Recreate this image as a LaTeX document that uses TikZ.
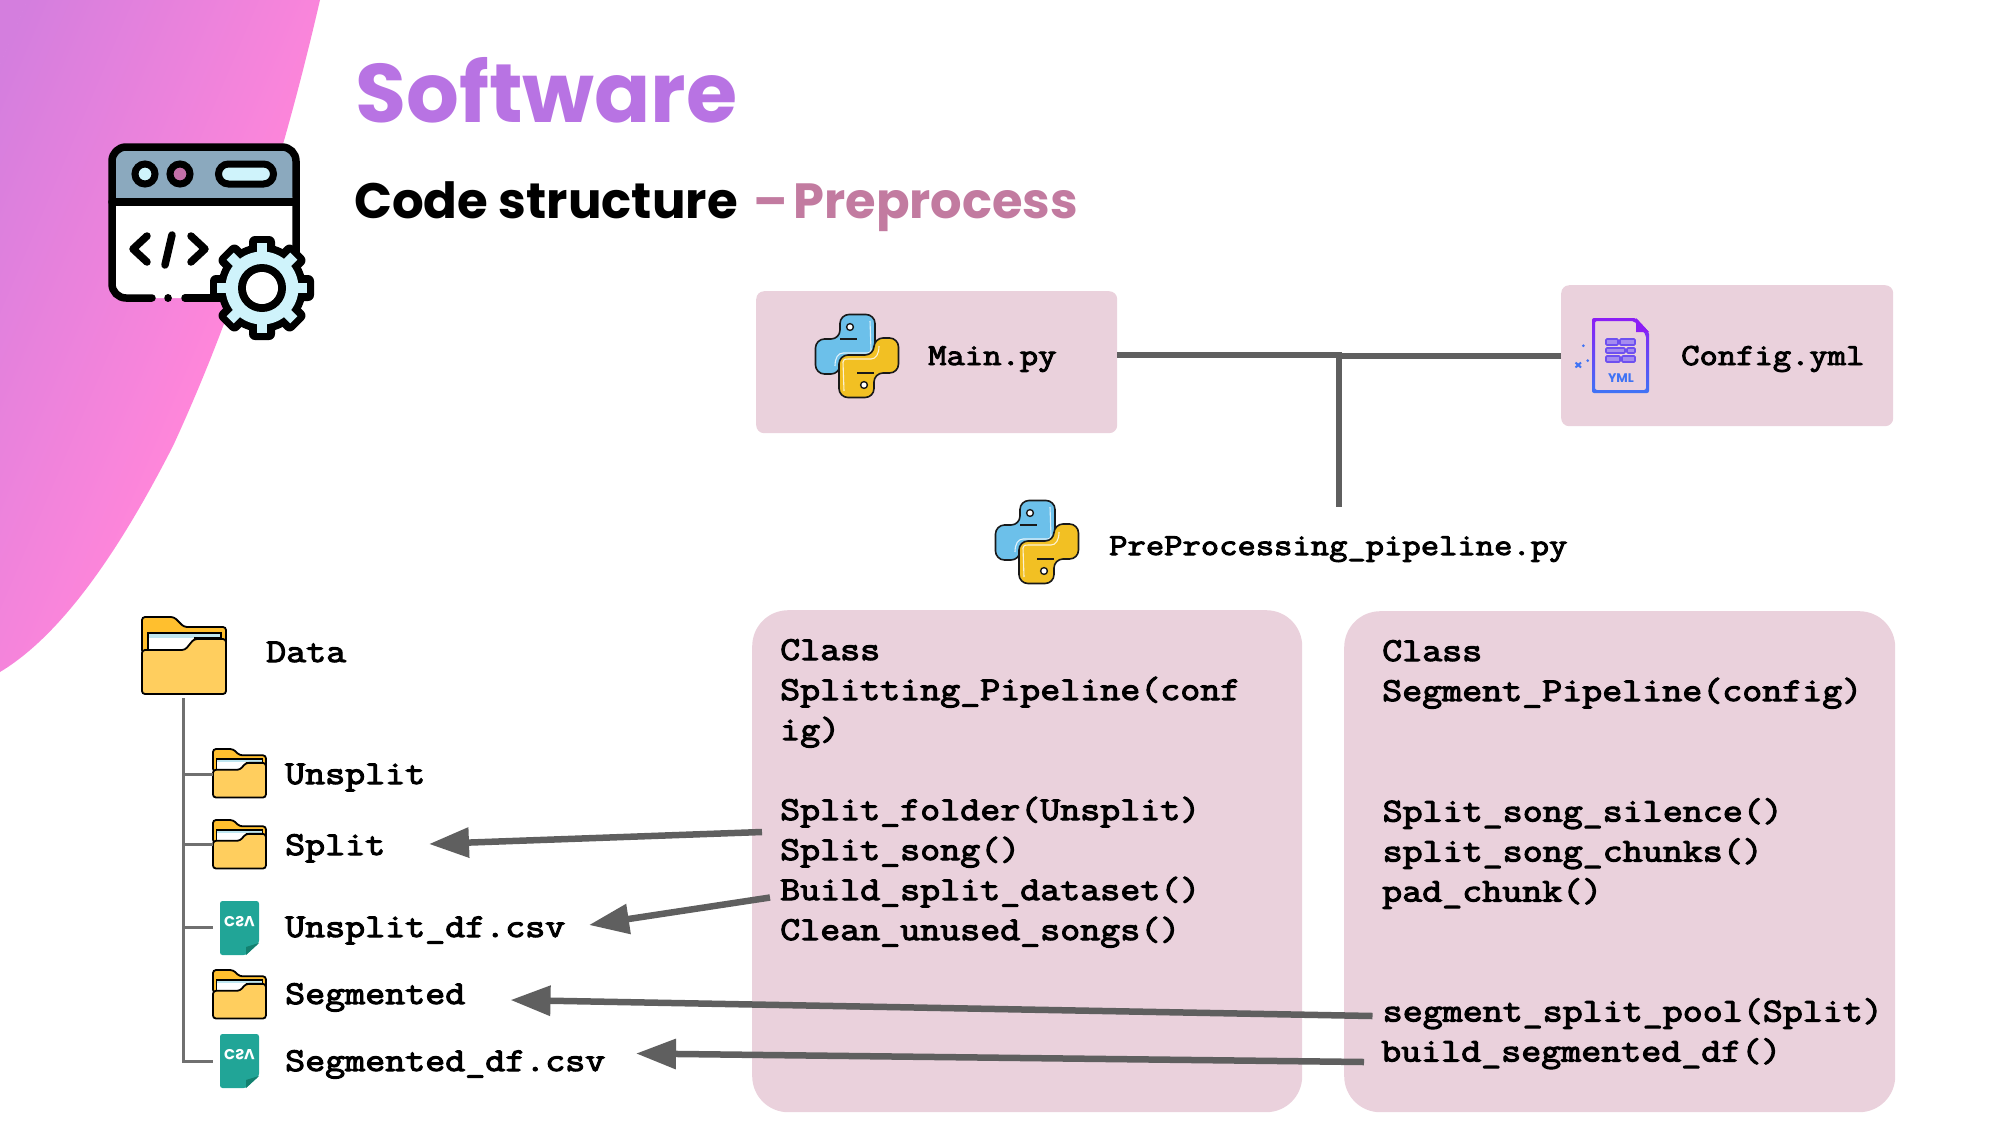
\documentclass[tikz,border=0pt]{standalone}
\usepackage{graphicx}
\usepackage{fontspec}
\setmainfont{Poppins}
\usetikzlibrary{arrows.meta,calc}
\newfontfamily\codefam[FakeStretch=1.163,FakeBold=3.2]{Latin Modern Mono}
\definecolor{boxpink}{HTML}{EAD1DC}
\definecolor{wire}{HTML}{5F5F5F}
\definecolor{treeline}{HTML}{707070}
\definecolor{pyblue}{HTML}{6CC0EA}
\definecolor{pyyellow}{HTML}{F2C023}
\definecolor{gearcyan}{HTML}{CFF3FB}
\definecolor{winhead}{HTML}{8BA9BE}
\definecolor{csvgreen}{HTML}{21A597}
\definecolor{csvdark}{HTML}{13806F}
\definecolor{ymlpurple}{HTML}{6E50F0}
\definecolor{ymlblue}{HTML}{3F73F5}
\definecolor{ymltop}{HTML}{8C1EF5}
\definecolor{ymlcell}{HTML}{A58CF0}
\definecolor{foldback}{HTML}{FFBF2E}
\definecolor{foldfront}{HTML}{FFCE5E}
\definecolor{foldstrip}{HTML}{BFE6F0}
\definecolor{blobleft}{HTML}{D47EDE}
\definecolor{blobright}{HTML}{FF86DA}
\definecolor{dotpink}{HTML}{C46FA8}
\definecolor{titlepurple}{HTML}{B873E3}
\definecolor{subpink}{HTML}{C27BA0}
\newcommand\pyhalfdraw[1]{%
  \path[pyseg,fill=#1] (-17,-17) -- (-17,-41.5) -- (18,-41.5) -- (18,1) -- (-17,1) -- (-17,18) -- (-41.5,18) -- (-41.5,-17) -- cycle;
  \draw[black!90,line width=1.6pt] (-17,-17) -- (0,-17);
  \draw[white,opacity=.8,line width=1.1pt] (13,-35) -- (14,-6) .. controls (14,-3) and (12,-3) .. (9,-3) -- (-14,-3) .. controls (-19,-3) and (-22,2) .. (-22,10);
  \draw[black!90,fill=white,line width=1.4pt] (-7,-29) circle[radius=3.4];
}
\newcommand\pylogodraw[2]{%
  \begin{scope}[shift={(#1,#2)}]\pyhalfdraw{pyblue}\end{scope}
  \begin{scope}[shift={(#1,#2)},rotate=180]\pyhalfdraw{pyyellow}\end{scope}
}
\tikzset{
  x=1pt,y=-1pt,
  smallbox/.style={fill=boxpink,rounded corners=8pt},
  classbox/.style={fill=boxpink,rounded corners=36pt},
  codeline/.style={anchor=base west,inner sep=0pt,font=\codefam\fontsize{33.4}{40}\selectfont},
  fileline/.style={anchor=base west,inner sep=0pt,font=\codefam\fontsize{30.6}{40}\selectfont},
  wireline/.style={wire,line width=6pt},
  arrowline/.style={wire,line width=6.5pt,-{Triangle[length=40pt,width=29pt]}},
  branch/.style={treeline,line width=3pt},
  winstroke/.style={black,line width=7.5pt,line cap=round,line join=round},
  pyseg/.style={draw=black!90,line width=1.6pt,rounded corners=9pt},
  pics/folder/.style={code={
    \path[draw=black,line width=1.8pt,fill=foldback,rounded corners=3pt]
      (0,36) -- (0,0) -- (32,0) -- (42,10) -- (84,10) -- (84,40) -- cycle;
    \fill[white] (6,21) -- (52,21) -- (43,32) -- (6,32) -- cycle;
    \fill[foldstrip] (6,16) rectangle (79,21);
    \draw[black,line width=1.2pt] (6,32) -- (6,16) -- (79,16) -- (79,21) -- (52,21);
    \path[draw=black,line width=1.8pt,fill=foldfront,rounded corners=3pt]
      (0,77) -- (0,33) -- (43,33) -- (52,22) -- (84,22) -- (84,77) -- cycle;
  }},
  pics/csvfile/.style={code={
    \fill[csvgreen,rounded corners=2.5pt] (0,0) -- (39,0) -- (39,42) -- (26,54) -- (0,54) -- cycle;
    \fill[csvdark] (39,42) -- (26,54) -- (26,46) -- cycle;
    \node[inner sep=0pt,text=white,font=\bfseries\fontsize{14.5}{14.5}\selectfont] at (19.5,21) {\scalebox{1}[-1]{CSV}};
  }}
}
\begin{document}
\begin{tikzpicture}
\useasboundingbox (0,0) rectangle (2000,1125);
% blob
\begin{scope}
  \clip (0,0) -- (320,0) .. controls (290,130) and (245,290) .. (173,446) .. controls (130,530) and (70,630) .. (0,672) -- cycle;
  \begin{scope}[transform canvas={rotate=-23}]
    \shade[left color=blobleft,right color=blobright] (25,-600) rectangle (335,1000);
    \fill[blobleft] (-100,-600) rectangle (25.5,1000);
  \end{scope}
\end{scope}
% window icon
\fill[white,rounded corners=14pt] (112,147) rectangle (296,298);
\fill[winhead,rounded corners=14pt] (112,202) -- (112,147) -- (296,147) -- (296,202) -- cycle;
\draw[winstroke,rounded corners=14pt] (152,298) -- (112,298) -- (112,147) -- (296,147) -- (296,262);
\draw[winstroke] (112,202) -- (296,202);
\draw[winstroke] (168,298) -- (168.1,298);
\draw[winstroke] (185,298) -- (225,298);
\draw[black,line width=7pt,fill=gearcyan] (145,174) circle[radius=10];
\draw[black,line width=7pt,fill=dotpink] (180,174) circle[radius=10];
\draw[black,line width=7pt,fill=gearcyan,rounded corners=10pt] (218.5,164) rectangle (273.5,184);
\draw[winstroke] (147,236) -- (133,249) -- (147,262);
\draw[winstroke] (172,235) -- (165,265);
\draw[winstroke] (191,236) -- (205,249) -- (191,262);
% gear
\begin{scope}[shift={(262,288)}]
  \foreach \a in {0,45,...,315}{\fill[black,rotate=\a,rounded corners=6pt] (-13,-52) rectangle (13,-30);}
  \fill[black] (0,0) circle[radius=44];
  \foreach \a in {0,45,...,315}{\fill[gearcyan,rotate=\a] (-5,-45) rectangle (5,-30);}
  \fill[gearcyan] (0,0) circle[radius=36.5];
  \fill[black] (0,0) circle[radius=24];
  \fill[white] (0,0) circle[radius=16];
\end{scope}
% titles
\node[anchor=base west,inner sep=0pt,text=titlepurple,font=\bfseries\fontsize{83}{90}\selectfont] (title) at (355,122.5) {Software};
\node[anchor=base west,inner sep=0pt,text=black,font=\bfseries\fontsize{49.8}{50}\selectfont] (sub) at (354,218) {Code structure};
\node[anchor=base west,inner sep=0pt,text=subpink,font=\bfseries\fontsize{49.5}{50}\selectfont] (subb) at (753.5,218) {–\kern-5pt\ Preprocess};
% top boxes
\node[smallbox,draw=none,anchor=north west,minimum width=361pt,minimum height=142pt,inner sep=0pt] (mainbox) at (756,291) {};
\node[smallbox,draw=none,anchor=north west,minimum width=332pt,minimum height=141pt,inner sep=0pt] (cfgbox) at (1561,285) {};
\pylogodraw{857}{356}
\pylogodraw{1037}{542}
\node[fileline] (mainpy) at (928,365) {Main.py};
\node[fileline] (cfgyml) at (1681,365) {Config.yml};
\node[fileline] (pppy) at (1109,555) {PreProcessing\_pipeline.py};
% connectors at the top
\coordinate (teea) at (1342,355);
\coordinate (teeb) at (1336,356);
\coordinate (teetop) at (1339,355);
\coordinate (teeend) at (1339,507);
\draw[wireline] (mainbox.east |- teea) -- (teea);
\draw[wireline] (cfgbox.west |- teeb) -- (teeb);
\draw[wireline] (teetop) -- (teeend);
% yml icon
\shade[top color=ymltop,bottom color=ymlblue,even odd rule,rounded corners=2pt]
  (1592,318) -- (1636,318) -- (1649,332) -- (1649,393) -- (1592,393) -- cycle
  (1595,321) -- (1595,390) -- (1646,390) -- (1646,335) -- (1634,321) -- cycle;
\fill[ymltop] (1636,318) -- (1636,332) -- (1649,332) -- cycle;
\foreach \xa/\xb/\ya/\yb in {1606/1618/339/345,1620/1635/339/345,1606/1625/348/353,1627/1635/348/353,1606/1620/356/362,1622/1635/356/362}{
  \draw[ymlpurple,line width=1.6pt,fill=ymlcell,rounded corners=1pt] (\xa,\ya) rectangle (\xb,\yb);
}
\node[inner sep=0pt,text=ymlblue,font=\bfseries\fontsize{12.5}{13}\selectfont] (ymllabel) at (1621,378) {YML};
\fill[ymlblue] (1583.3,345.7) circle[radius=1.5] (1587.7,360.7) circle[radius=1.5];
\draw[ymlblue,line width=2pt] (1575.5,362.5) -- (1581,367.5) (1581,362.5) -- (1575.5,367.5);
% class boxes
\node[classbox,draw=none,anchor=north west,minimum width=550pt,minimum height=502pt,inner sep=0pt] (splitbox) at (752,610) {};
\node[classbox,draw=none,anchor=north west,minimum width=551pt,minimum height=501pt,inner sep=0pt] (segbox) at (1344,611) {};
\node[codeline] (c1a) at (780,660) {Class};
\node[codeline] (c1b) at (780,700) {Splitting\_Pipeline(conf};
\node[codeline] (c1c) at (780,740) {ig)};
\node[codeline] (c1d) at (780,820) {Split\_folder(Unsplit)};
\node[codeline] (c1e) at (780,860) {Split\_song()};
\node[codeline] (c1f) at (780,900) {Build\_split\_dataset()};
\node[codeline] (c1g) at (780,940) {Clean\_unused\_songs()};
\node[codeline] (c2a) at (1382,661) {Class};
\node[codeline] (c2b) at (1382,701) {Segment\_Pipeline(config)};
\node[codeline] (c2c) at (1382.5,821.5) {Split\_song\_silence()};
\node[codeline] (c2d) at (1382.5,861.5) {split\_song\_chunks()};
\node[codeline] (c2e) at (1382,901.5) {pad\_chunk()};
\node[codeline] (c2f) at (1382.5,1021.5) {segment\_split\_pool(Split)};
\node[codeline] (c2g) at (1381,1061.5) {build\_segmented\_df()};
% data tree
\pic at (142,617) {folder};
\pic[scale=.63] at (213,749) {folder};
\pic[scale=.63] at (213,820) {folder};
\pic[scale=.63] at (213,970) {folder};
\pic at (220,901) {csvfile};
\pic at (220,1034) {csvfile};
\node[codeline] (data) at (266,662) {Data};
\node[codeline] (unsplit) at (285,784) {Unsplit};
\node[codeline] (split) at (285,855) {Split};
\node[codeline] (unsplitdf) at (285,937) {Unsplit\_df.csv};
\node[codeline] (segmented) at (285,1004) {Segmented};
\node[codeline] (segdf) at (285,1071) {Segmented\_df.csv};
\coordinate (trunktop) at (183,698);
\coordinate (trunkend) at (183,1061.5);
\coordinate (b1) at (183,774);  \coordinate (b1e) at (213,774);
\coordinate (b2) at (183,844);  \coordinate (b2e) at (213,844);
\coordinate (b3) at (183,927.5);\coordinate (b3e) at (213,927.5);
\coordinate (b4e) at (213,1061.5);
\draw[branch] (trunktop) -- (trunkend) -- (b4e);
\draw[branch] (b1) -- (b1e);
\draw[branch] (b2) -- (b2e);
\draw[branch] (b3) -- (b3e);
% arrows
\coordinate (a1s) at (762,832);   \coordinate (a1t) at (429,844);
\coordinate (a2s) at (770,897.5); \coordinate (a2t) at (589,925);
\coordinate (a3s) at (1372.5,1016); \coordinate (a3t) at (510.5,1000);
\coordinate (a4s) at (1364,1062); \coordinate (a4t) at (636,1053.5);
\draw[arrowline] (a1s) -- (a1t);
\draw[arrowline] (a2s) -- (a2t);
\draw[arrowline] (a3s) -- (a3t);
\draw[arrowline] (a4s) -- (a4t);
\end{tikzpicture}
\end{document}
